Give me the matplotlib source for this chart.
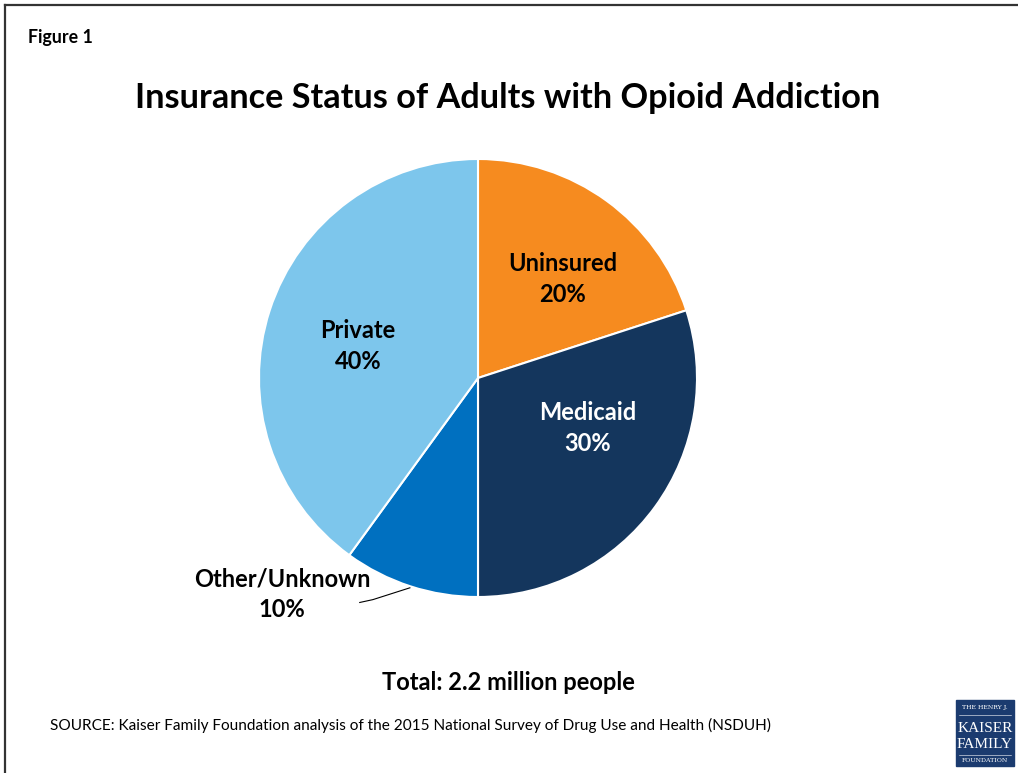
import matplotlib.pyplot as plt
from matplotlib.patches import Rectangle

# Insurance status shares (percent), drawn clockwise from 12 o'clock
categories = ['Uninsured', 'Medicaid', 'Other/Unknown', 'Private']
shares = [20, 30, 10, 40]
colors = ['#F68B1F', '#14365D', '#0070C0', '#7DC6EC']
text_colors = ['black', 'white', 'black', 'black']

plt.rcParams['font.family'] = ['Lato', 'DejaVu Sans']

W, H = 1018, 773
fig = plt.figure(figsize=(W / 100, H / 100), dpi=100)

def fx(px):
    return px / W

def fy(py):
    return 1 - py / H

# frame: top and left rule
fig.add_artist(plt.Line2D([fx(5), fx(W)], [fy(5), fy(5)], color='#333333', lw=1.6))
fig.add_artist(plt.Line2D([fx(5), fx(5)], [fy(5), fy(H)], color='#333333', lw=1.6))

# pie axes
cx, cy, r = 478, 378, 219
ax = fig.add_axes([fx(cx - r), fy(cy + r), 2 * r / W, 2 * r / H])
ax.pie(shares, colors=colors, startangle=90, counterclock=False,
       wedgeprops=dict(edgecolor='white', linewidth=1.5), radius=1)
ax.set_xlim(-1, 1)
ax.set_ylim(-1, 1)
ax.set_aspect('equal')
ax.axis('off')

# label positions in pie units
label_pos = [(0.388, 0.452), (0.502, -0.228), (-0.895, -0.988), (-0.548, 0.146)]
for name, val, (lx, ly), tc in zip(categories, shares, label_pos, text_colors):
    ax.text(lx, ly, f'{name}\n{val}%', ha='center', va='center', fontsize=17,
            fontweight='bold', color=tc, linespacing=1.4, clip_on=False)

# leader line for the small slice
ax.plot([-0.311, -0.480, -0.540], [-0.958, -1.012, -1.025], color='black', lw=0.8,
        clip_on=False)

fig.text(fx(28), fy(37), 'Figure 1', fontsize=12.8, fontweight='bold', va='center')
fig.text(fx(508), fy(98), 'Insurance Status of Adults with Opioid Addiction',
         fontsize=24.7, fontweight='bold', ha='center', va='center')
fig.text(fx(508), fy(683), 'Total: 2.2 million people', fontsize=17,
         fontweight='bold', ha='center', va='center')
fig.text(fx(50), fy(725),
         'SOURCE: Kaiser Family Foundation analysis of the 2015 National Survey of Drug Use and Health (NSDUH)',
         fontsize=11.05, va='center')

# foundation logo
fig.add_artist(Rectangle((fx(956), fy(766)), fx(58), 66 / H, color='#1B3B6F'))
lx0 = fx(985)
fig.text(lx0, fy(708), 'THE HENRY J.', fontsize=4.5, color='white', ha='center',
         va='center', family='DejaVu Serif')
fig.add_artist(plt.Line2D([fx(959), fx(1011)], [fy(715), fy(715)], color='white', lw=0.4))
fig.text(lx0, fy(728), 'KAISER', fontsize=11, color='white', ha='center',
         va='center', family='Liberation Serif')
fig.text(lx0, fy(745), 'FAMILY', fontsize=11, color='white', ha='center',
         va='center', family='Liberation Serif')
fig.add_artist(plt.Line2D([fx(959), fx(1011)], [fy(755), fy(755)], color='white', lw=0.4))
fig.text(lx0, fy(761), 'FOUNDATION', fontsize=4.5, color='white', ha='center',
         va='center', family='DejaVu Serif')

plt.savefig('out.png', dpi=100)
plt.close()
